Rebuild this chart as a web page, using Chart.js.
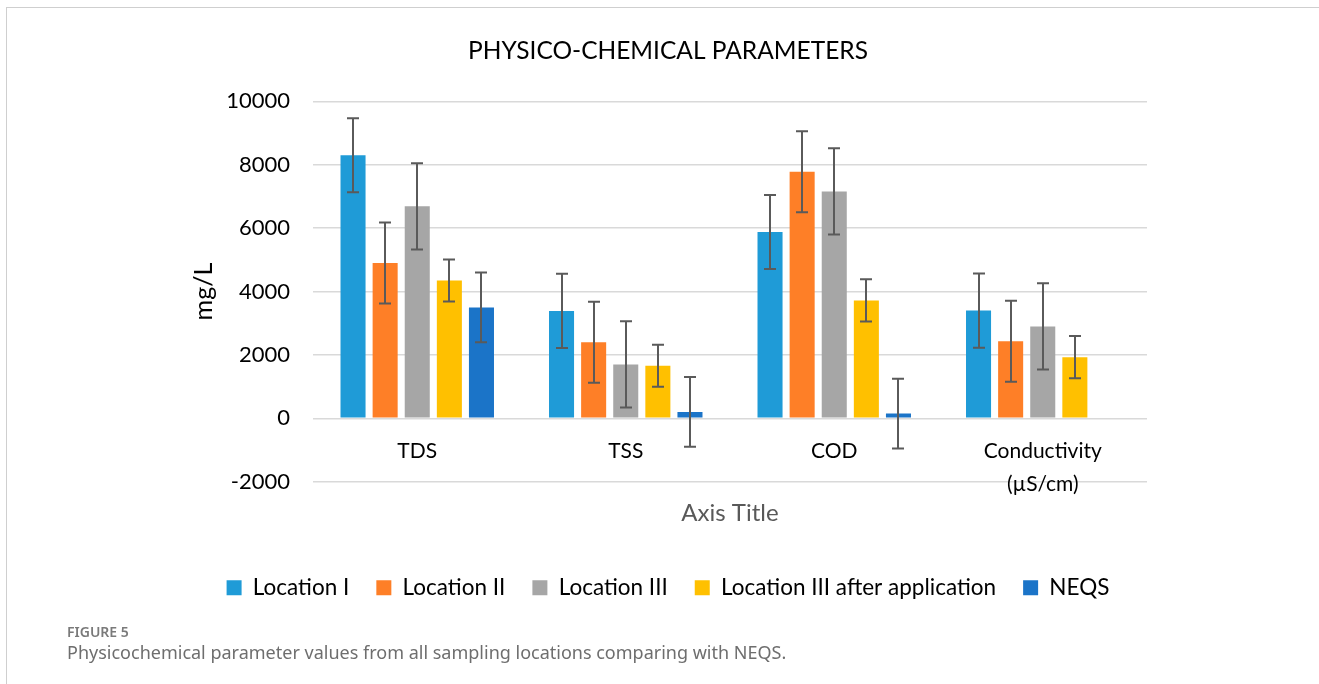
<!DOCTYPE html>
<html>
<head>
<meta charset="utf-8">
<script src="https://cdn.jsdelivr.net/npm/chart.js@4.4.1/dist/chart.umd.min.js"></script>
<style>
  body { margin: 0; background: #fff; }
  #wrap { position: relative; width: 1319px; height: 684px; overflow: hidden; }
  #frame { position: absolute; left: 6px; top: 7px; right: 0; bottom: 0;
           border-left: 1px solid #cfcfcf; border-top: 1px solid #cfcfcf; }
  canvas { position: absolute; left: 0; top: 0; }
  .fig { position: absolute; left: 67px; font-family: "Noto Sans", sans-serif; }
  #figno { top: 622px; font-size: 14px; font-weight: 600; color: #7a7a7a; }
  #figcap { top: 640px; font-size: 18px; color: #6e6e6e; }
</style>
</head>
<body>
<div id="wrap">
  <div id="frame"></div>
  <canvas id="myChart" width="1319" height="684"></canvas>
  <div class="fig" id="figno">FIGURE 5</div>
  <div class="fig" id="figcap">Physicochemical parameter values from all sampling locations comparing with NEQS.</div>
</div>
<script>
// categories
var labels = ['TDS', 'TSS', 'COD', ['Conductivity', '(µS/cm)']];
// series values
var locI = [8300, 3390, 5880, 3400];
var locII = [4900, 2400, 7780, 2430];
var locIII = [6690, 1700, 7160, 2900];
var locIIIAfter = [4350, 1660, 3720, 1930];
var neqs = [3500, 200, 150, null];
// error bar sizes (+/-)
var errI = [1170, 1170, 1170, 1170];
var errII = [1280, 1280, 1280, 1280];
var errIII = [1360, 1360, 1360, 1360];
var errAfter = [665, 665, 665, 665];
var errNeqs = [1100, 1100, 1100, null];

var font = 'Lato, "Open Sans", sans-serif';

// draws +/- error bars on top of every bar
var errorBars = {
  id: 'errorBars',
  afterDatasetsDraw: function (chart) {
    var ctx = chart.ctx;
    var yScale = chart.scales.y;
    ctx.save();
    ctx.strokeStyle = '#5a5a5a';
    ctx.lineWidth = 2;
    chart.data.datasets.forEach(function (ds, i) {
      var meta = chart.getDatasetMeta(i);
      meta.data.forEach(function (bar, j) {
        var v = ds.data[j];
        var e = ds.errors[j];
        if (v == null || e == null) return;
        var top = yScale.getPixelForValue(v + e);
        var bot = yScale.getPixelForValue(v - e);
        var x = Math.round(bar.x);
        ctx.beginPath();
        ctx.moveTo(x, top); ctx.lineTo(x, bot);
        ctx.moveTo(x - 6, top); ctx.lineTo(x + 6, top);
        ctx.moveTo(x - 6, bot); ctx.lineTo(x + 6, bot);
        ctx.stroke();
      });
    });
    ctx.restore();
  }
};

var ctx1 = document.getElementById('myChart').getContext('2d');
var chart = new Chart(ctx1, {
  type: 'bar',
  data: {
    labels: labels,
    datasets: [
      { label: 'Location I', data: locI, errors: errI, backgroundColor: '#1f9bd7' },
      { label: 'Location II', data: locII, errors: errII, backgroundColor: '#fe7f27' },
      { label: 'Location III', data: locIII, errors: errIII, backgroundColor: '#a6a6a6' },
      { label: 'Location III after application', data: locIIIAfter, errors: errAfter, backgroundColor: '#ffc000' },
      { label: 'NEQS', data: neqs, errors: errNeqs, backgroundColor: '#1b74c8' }
    ]
  },
  plugins: [errorBars],
  options: {
    responsive: false,
    animation: false,
    devicePixelRatio: 1,
    categoryPercentage: 0.77,
    barPercentage: 0.78,
    layout: { padding: { left: 189, right: 172, top: 36, bottom: 75 } },
    plugins: {
      title: {
        display: true,
        text: 'PHYSICO-CHEMICAL PARAMETERS',
        color: '#000',
        font: { family: font, size: 24.5, weight: 'normal' },
        padding: { top: 0, bottom: 36 }
      },
      legend: {
        position: 'bottom',
        labels: {
          color: '#000',
          boxWidth: 15,
          boxHeight: 15,
          padding: 27,
          font: { family: font, size: 22.5 }
        }
      },
      tooltip: { enabled: false }
    },
    scales: {
      x: {
        position: { y: 0 },
        grid: { display: false },
        border: { display: false },
        ticks: {
          color: '#000',
          padding: 9,
          maxRotation: 0,
          font: { family: font, size: 21, lineHeight: 1.55 }
        }
      },
      x2: {
        type: 'category',
        position: 'bottom',
        grid: { display: false },
        border: { display: false },
        ticks: { display: false },
        title: {
          display: true,
          text: 'Axis Title',
          color: '#595959',
          font: { family: font, size: 24 },
          padding: { top: 9, bottom: 22 }
        }
      },
      y: {
        min: -2000,
        max: 10000,
        afterFit: function (scale) { scale.width = 124; },
        grid: { color: '#d9d9d9', lineWidth: 1.5, drawTicks: false },
        border: { display: false },
        ticks: {
          stepSize: 2000,
          padding: 23,
          color: '#000',
          font: { family: font, size: 22 },
          callback: function (value) { return String(value); }
        },
        title: {
          display: true,
          text: 'mg/L',
          color: '#000',
          font: { family: font, size: 25 },
          padding: 0
        }
      }
    }
  }
});
</script>
</body>
</html>
